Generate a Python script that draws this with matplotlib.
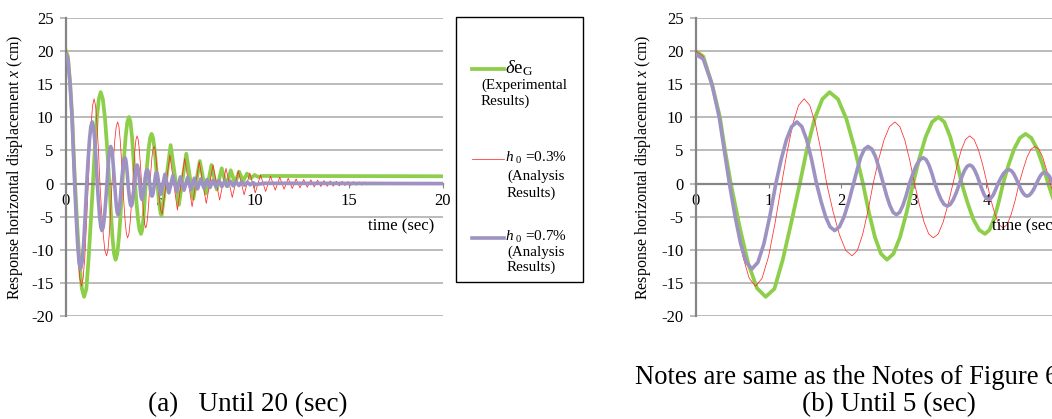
import matplotlib
matplotlib.use("Agg")
import matplotlib.pyplot as plt
from matplotlib.lines import Line2D
from matplotlib.patches import Rectangle

plt.rcParams['font.family'] = ['Liberation Serif', 'DejaVu Serif']
plt.rcParams['mathtext.fontset'] = 'custom'
plt.rcParams['mathtext.rm'] = 'Liberation Serif'
plt.rcParams['mathtext.it'] = 'Liberation Serif:italic'
plt.rcParams['axes.unicode_minus'] = False

# ---------------- data ----------------
exp_t = [0, 0.1, 0.22, 0.33, 0.40, 0.48, 0.60, 0.72, 0.84, 0.96, 1.08, 1.195, 1.31, 1.43,
         1.53, 1.635, 1.74, 1.84, 1.955, 2.07, 2.185, 2.30, 2.3825, 2.465, 2.5475, 2.63,
         2.72, 2.81, 2.90, 2.99, 3.0775, 3.165, 3.2525, 3.34, 3.42, 3.50, 3.58, 3.66,
         3.74, 3.82, 3.90, 3.98, 4.0425, 4.105, 4.1675, 4.23, 4.3075, 4.385, 4.4625, 4.54,
         4.6175, 4.695, 4.7725, 4.85, 4.905, 4.96, 5.015, 5.07,
         5.55, 5.99, 6.38, 6.75, 7.10, 7.42, 7.72, 8.00, 8.26, 8.52, 8.74, 8.97, 9.18,
         9.40, 9.60, 9.80, 10.0, 10.2, 10.4, 20.0]
exp_x = [20, 19.2, 15, 10, 5, 0, -6.5, -12.1, -15.8, -17.1, -15.9, -11.5, -6.0, 0,
         5.3, 9.8, 12.75, 13.8, 12.75, 9.8, 5.3, 0, -4.4, -8.1, -10.6, -11.5,
         -10.6, -8.1, -4.4, 0, 3.85, 7.1, 9.3, 10.05, 9.3, 7.1, 3.85, 0,
         -2.9, -5.4, -7.0, -7.6, -7.0, -5.4, -2.9, 0, 2.9, 5.3, 6.9, 7.5,
         6.9, 5.3, 2.9, 0, -1.8, -3.4, -4.4, -4.8,
         5.8, -3.2, 4.5, -2.3, 3.4, -1.5, 2.8, -0.9, 2.3, -0.4, 2.0, 0.0, 1.8,
         0.4, 1.5, 0.8, 1.3, 1.0, 1.15, 1.1]

h03_t = [0, 0.1, 0.22, 0.33, 0.40, 0.47, 0.5575, 0.645, 0.7325, 0.82, 0.91, 1.00, 1.09, 1.18,
         1.2575, 1.335, 1.4125, 1.49, 1.5675, 1.645, 1.7225, 1.80, 1.8875, 1.975, 2.0625, 2.15,
         2.2225, 2.295, 2.3675, 2.44, 2.515, 2.59, 2.665, 2.74, 2.8075, 2.875, 2.9425, 3.01,
         3.075, 3.14, 3.205, 3.27, 3.3375, 3.405, 3.4725, 3.54, 3.5975, 3.655, 3.7125, 3.77,
         3.83, 3.89, 3.95, 4.01, 4.065, 4.12, 4.175, 4.23, 4.285, 4.34, 4.395, 4.45,
         4.505, 4.56, 4.615, 4.67, 4.7225, 4.775, 4.8275, 4.88, 4.935, 4.99, 5.045, 5.10,
         5.51, 5.91, 6.30, 6.69, 7.07, 7.44, 7.80, 8.15, 8.49, 8.82, 9.14, 9.45,
         9.75, 10.04, 10.32, 10.59, 10.85, 11.10, 11.34, 11.57, 11.79, 12.00, 12.21, 12.41,
         12.61, 12.80, 12.99, 13.17, 13.35, 13.52, 13.69, 13.86, 14.02, 14.18, 14.34, 14.50,
         14.65, 14.80, 14.95, 15.10, 15.25, 15.40, 15.55, 15.70, 15.85, 16.00, 16.15, 16.30,
         16.45, 16.60, 16.75, 16.90, 17.05, 17.20, 17.35, 17.50, 20.0]
h03_x = [20, 19.2, 15, 10, 5, 0, -5.9, -11.0, -14.3, -15.5, -14.3, -11.0, -5.9, 0,
         4.9, 9.05, 11.8, 12.8, 11.8, 9.05, 4.9, 0, -4.2, -7.7, -10.1, -10.9,
         -10.1, -7.7, -4.2, 0, 3.6, 6.6, 8.6, 9.3, 8.6, 6.6, 3.6, 0,
         -3.1, -5.8, -7.6, -8.2, -7.6, -5.8, -3.1, 0, 2.8, 5.1, 6.65, 7.2,
         6.65, 5.1, 2.8, 0, -2.6, -4.7, -6.2, -6.7, -6.2, -4.7, -2.6, 0,
         2.1, 4.0, 5.2, 5.6, 5.2, 4.0, 2.1, 0, -1.8, -3.3, -4.25, -4.6,
         4.3, -4.0, 3.8, -3.5, 3.3, -3.0, 2.8, -2.5, 2.3, -2.1, 1.9, -1.7,
         1.6, -1.4, 1.3, -1.2, 1.1, -1.0, 0.95, -0.85, 0.8, -0.75, 0.7, -0.65,
         0.6, -0.55, 0.55, -0.5, 0.5, -0.45, 0.45, -0.4, 0.4, -0.4, 0.35, -0.35,
         0.35, -0.3, 0.3, -0.3, 0.3, -0.25, 0.25, -0.25, 0.25, -0.2, 0.2, -0.2,
         0.2, -0.15, 0.15, -0.15, 0.15, -0.1, 0.1, -0.1, 0.0]

h07_t = [0, 0.1, 0.22, 0.32, 0.39, 0.46, 0.5375, 0.615, 0.6925, 0.77, 0.8525, 0.935, 1.0175, 1.10,
         1.1725, 1.245, 1.3175, 1.39, 1.4575, 1.525, 1.5925, 1.66, 1.7225, 1.785, 1.8475, 1.91,
         1.975, 2.04, 2.105, 2.17, 2.22, 2.27, 2.32, 2.37, 2.4225, 2.475, 2.5275, 2.58,
         2.625, 2.67, 2.715, 2.76, 2.805, 2.85, 2.895, 2.94, 2.9875, 3.035, 3.0825, 3.13,
         3.17, 3.21, 3.25, 3.29, 3.3325, 3.375, 3.4175, 3.46, 3.5025, 3.545, 3.5875, 3.63,
         3.665, 3.70, 3.735, 3.77, 3.805, 3.84, 3.875, 3.91, 3.94, 3.97, 4.00, 4.03,
         4.0625, 4.095, 4.1275, 4.16, 4.1975, 4.235, 4.2725, 4.31, 4.3425, 4.375, 4.4075, 4.44,
         4.47, 4.50, 4.53, 4.56, 4.5925, 4.625, 4.6575, 4.69, 4.7175, 4.745, 4.7725, 4.80,
         4.83, 4.86, 4.89, 4.92, 4.9475, 4.975, 5.0025, 5.03,
         5.25, 5.46, 5.67, 5.87, 6.07, 6.26, 6.45, 6.63, 6.81, 6.98, 7.15, 7.32, 7.48,
         7.64, 7.80, 7.96, 8.12, 8.27, 8.42, 8.57, 8.72, 8.87, 9.02, 9.17, 9.32, 9.47,
         9.62, 9.77, 9.92, 10.07, 10.5, 20.0]
h07_x = [19.5, 18.8, 15, 10, 5, 0, -4.9, -9.1, -11.9, -12.9, -11.9, -9.1, -4.9, 0,
         3.6, 6.6, 8.6, 9.3, 8.6, 6.6, 3.6, 0, -2.7, -5.0, -6.55, -7.1,
         -6.55, -5.0, -2.7, 0, 2.1, 4.0, 5.2, 5.6, 5.2, 4.0, 2.1, 0,
         -1.8, -3.3, -4.35, -4.7, -4.35, -3.3, -1.8, 0, 1.5, 2.75, 3.6, 3.9,
         3.6, 2.75, 1.5, 0, -1.3, -2.4, -3.15, -3.4, -3.15, -2.4, -1.3, 0,
         1.1, 2.0, 2.6, 2.8, 2.6, 2.0, 1.1, 0, -0.9, -1.7, -2.2, -2.4,
         -2.2, -1.7, -0.9, 0, 0.8, 1.5, 1.95, 2.1, 1.95, 1.5, 0.8, 0,
         -0.75, -1.35, -1.75, -1.9, -1.75, -1.35, -0.75, 0, 0.65, 1.2, 1.55, 1.7,
         1.55, 1.2, 0.65, 0, -0.6, -1.1, -1.5, -1.6,
         1.4, -1.4, 1.2, -1.2, 1.0, -1.0, 0.9, -0.9, 0.8, -0.8, 0.7, -0.7, 0.6,
         -0.6, 0.5, -0.5, 0.45, -0.45, 0.4, -0.4, 0.35, -0.35, 0.3, -0.3, 0.25, -0.25,
         0.2, -0.2, 0.15, -0.15, 0.05, 0.0]

y_ticks = [-20, -15, -10, -5, 0, 5, 10, 15, 20, 25]
xticks_a = [0, 5, 10, 15, 20]
xticks_b = [0, 1, 2, 3, 4]

GREEN = '#8DCF4A'
RED = '#FF2A2A'
PURPLE = '#9D92C2'
GRID = '#A8A8A8'
AXC = '#858585'

W, H = 1052, 419
fig = plt.figure(figsize=(W / 100, H / 100), dpi=100)


def fx(px):
    return px / W


def fy(py):
    return 1 - py / H


def make_axes(left_px, width_px, xmax, xticks, ylab_x):
    ax = fig.add_axes([fx(left_px), fy(316), width_px / W, (316 - 18) / H])
    ax.set_xlim(0, xmax)
    ax.set_ylim(-20, 25)
    ax.set_yticks(y_ticks)
    ax.set_xticks(xticks)
    for s in ['top', 'right']:
        ax.spines[s].set_visible(False)
    ax.spines['left'].set_color(AXC)
    ax.spines['left'].set_linewidth(1.6)
    ax.spines['bottom'].set_position(('data', 0))
    ax.spines['bottom'].set_color(AXC)
    ax.spines['bottom'].set_linewidth(1.6)
    ax.yaxis.grid(True, color=GRID, linewidth=1.1)
    ax.set_axisbelow(True)
    ax.tick_params(axis='y', length=4, width=1.1, color=GRID, pad=5, labelsize=12)
    ax.tick_params(axis='x', length=3, width=0.8, color=AXC, pad=4, labelsize=12)
    ax.plot(exp_t, exp_x, color=GREEN, linewidth=2.7, solid_joinstyle='round', zorder=2)
    ax.plot(h03_t, h03_x, color=RED, linewidth=0.55, zorder=3)
    ax.plot(h07_t, h07_x, color=PURPLE, linewidth=2.6, solid_joinstyle='round', zorder=4)
    ax.set_ylabel(r'Response horizontal displacement $x$ (cm)', fontsize=11.5)
    ax.yaxis.set_label_coords(ylab_x, 0.5)
    for lab in ax.get_xticklabels():
        lab.set_zorder(5)
    return ax


ax1 = make_axes(66, 377, 20, xticks_a, -0.109)
ax1.text(17.8, -6.5, 'time (sec)', ha='center', va='center', fontsize=12)

ax2 = make_axes(696, 363, 5, xticks_b, -0.118)
ax2.text(4.08, -6.5, 'time (sec)', ha='left', va='center', fontsize=12)

# legend box
fig.add_artist(Rectangle((fx(456), fy(282)), 127 / W, 265 / H, transform=fig.transFigure,
                         fill=False, edgecolor='black', linewidth=1.0))
entries = [
    (GREEN, 2.7, 69.0, r'$\delta$e$_{\mathrm{G}}$', 13.5, ['(Experimental', 'Results)'], [85, 101], 481),
    (RED, 0.55, 159.0, r'$h\;{}_{0}$ =0.3%', 11, ['(Analysis', 'Results)'], [176.5, 193], 507),
    (PURPLE, 2.6, 237.5, r'$h\;{}_{0}$ =0.7%', 11, ['(Analysis', 'Results)'], [252, 267], 507),
]
for col, lw, ly, lab, fs, sub, sub_y, sub_x in entries:
    fig.add_artist(Line2D([fx(472), fx(504)], [fy(ly), fy(ly)], transform=fig.transFigure,
                          color=col, linewidth=lw))
    fig.text(fx(505), fy(ly - 1), lab, ha='left', va='center', fontsize=fs)
    for s, yy in zip(sub, sub_y):
        fig.text(fx(sub_x), fy(yy), s, ha='left', va='center', fontsize=10.8)

# captions
fig.text(fx(248), fy(405), '(a)   Until 20 (sec)', ha='center', va='center', fontsize=19.5)
fig.text(fx(635), fy(377), 'Notes are same as the Notes of Figure 6', ha='left', va='center', fontsize=19.2)
fig.text(fx(889), fy(405), '(b) Until 5 (sec)', ha='center', va='center', fontsize=19.5)

fig.savefig('out.png', dpi=100)
